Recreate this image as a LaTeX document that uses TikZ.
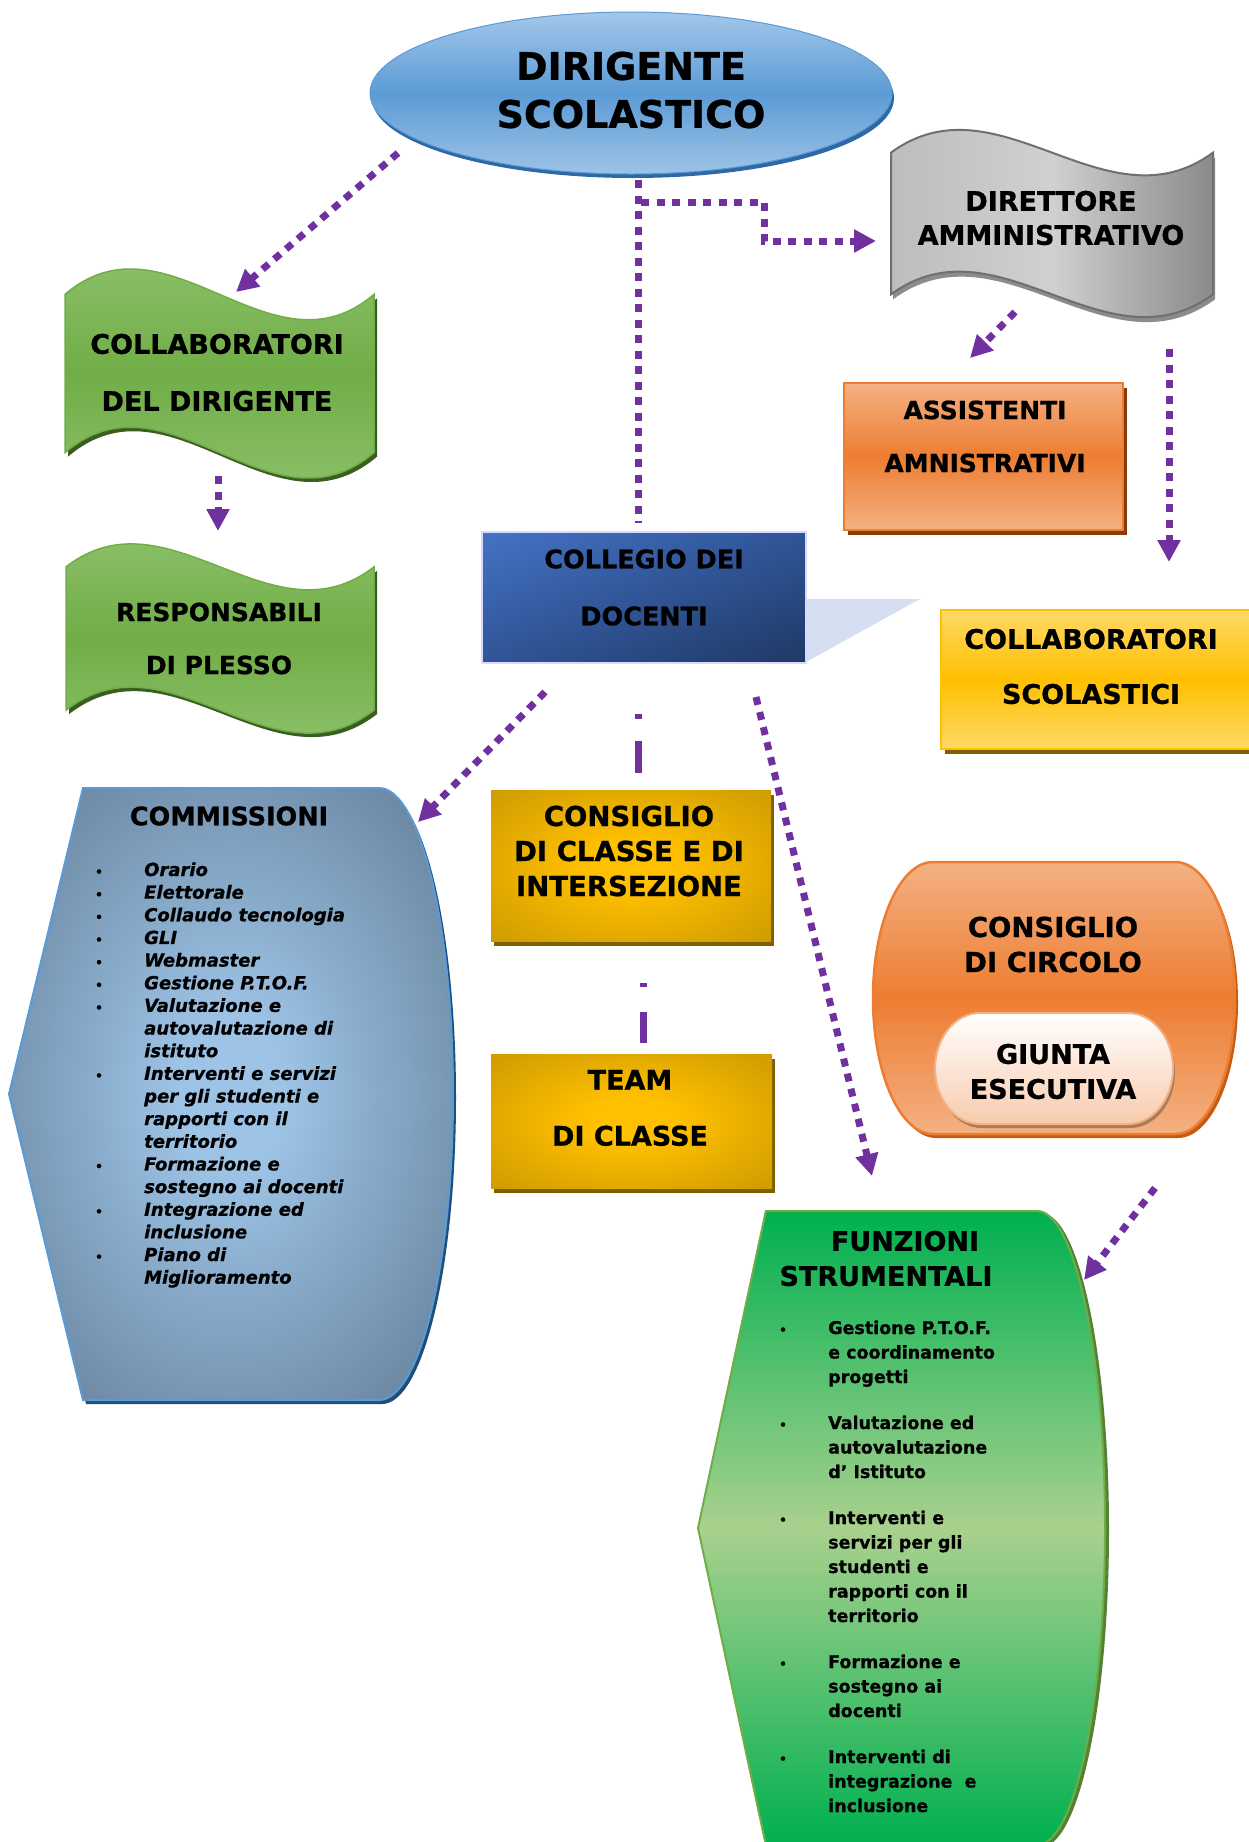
\documentclass[tikz,border=0pt]{standalone}
\usepackage{fontspec}
\setmainfont{DejaVu Sans}[BoldFeatures={FakeBold=0.8},BoldItalicFeatures={FakeBold=0.8}]
\usetikzlibrary{arrows.meta,shadings}
\definecolor{purp}{HTML}{7030A0}
\definecolor{ellTop}{HTML}{A3C7EA}
\definecolor{ellMid}{HTML}{5B9BD5}
\definecolor{ellBot}{HTML}{9DC3E6}
\definecolor{ellSh}{HTML}{2E68A8}
\definecolor{grL}{HTML}{BDBDBD}
\definecolor{grM}{HTML}{D0D0D0}
\definecolor{grR}{HTML}{8A8A8A}
\definecolor{grSh}{HTML}{6F6F6F}
\definecolor{gnTop}{HTML}{97C876}
\definecolor{gnMid}{HTML}{70AD47}
\definecolor{gnSh}{HTML}{3A5D22}
\definecolor{bluA}{HTML}{4472C4}
\definecolor{bluB}{HTML}{203864}
\definecolor{bluC}{HTML}{2F5597}
\definecolor{triC}{HTML}{D6DEF2}
\definecolor{orL}{HTML}{F4B183}
\definecolor{orM}{HTML}{ED7D31}
\definecolor{orSh}{HTML}{843C0C}
\definecolor{orShB}{HTML}{C55A11}
\definecolor{yeL}{HTML}{FFD966}
\definecolor{yeM}{HTML}{FFC000}
\definecolor{yeSh}{HTML}{7F6000}
\definecolor{goC}{HTML}{FFC000}
\definecolor{goE}{HTML}{BF9000}
\definecolor{slC}{HTML}{9DC3E6}
\definecolor{slE}{HTML}{5E7890}
\definecolor{slB}{HTML}{5B9BD5}
\definecolor{slSh}{HTML}{1F4E79}
\definecolor{giB}{HTML}{F8CBAD}
\definecolor{fnE}{HTML}{00B050}
\definecolor{fnC}{HTML}{A9D18E}
\definecolor{fnB}{HTML}{70AD47}
\definecolor{fnSh}{HTML}{548235}
\pgfdeclareradialshading{goldrad}{\pgfpoint{0bp}{0bp}}{color(0bp)=(goC); color(8bp)=(goC); color(44bp)=(goE); color(75bp)=(goE)}
\pgfdeclareradialshading{slaterad}{\pgfpoint{0bp}{0bp}}{color(0bp)=(slC); color(6bp)=(slC); color(38bp)=(slE); color(75bp)=(slE)}
\newcommand{\fs}[2]{\fontsize{#1}{#2}\selectfont}
% x0 y0 w h
\newcommand{\wavepath}[4]{({#1},{#2+0.125*#4}) .. controls ({#1+#3/3},{#2-0.29167*#4}) and ({#1+2*#3/3},{#2+0.54167*#4}) .. ({#1+#3},{#2+0.125*#4}) -- ({#1+#3},{#2+0.875*#4}) .. controls ({#1+2*#3/3},{#2+1.29167*#4}) and ({#1+#3/3},{#2+0.45833*#4}) .. ({#1},{#2+0.875*#4}) -- cycle}
\newcommand{\disppath}[4]{({#1},{#2+#4/2}) -- ({#1+#3/6},{#2}) -- ({#1+5*#3/6},{#2}) arc[start angle=-90, end angle=90, x radius={#3/6}, y radius={#4/2}] -- ({#1+#3/6},{#2+#4}) -- cycle}
% x0 y0 w h rx
\newcommand{\termpath}[5]{({#1+#5},{#2}) -- ({#1+#3-#5},{#2}) arc[start angle=-90, end angle=90, x radius={#5}, y radius={#4/2}] -- ({#1+#5},{#2+#4}) arc[start angle=90, end angle=270, x radius={#5}, y radius={#4/2}] -- cycle}
\begin{document}
\begin{tikzpicture}[x=1pt,y=-1pt,
  lbl/.style={inner sep=0pt, align=center, text=black},
  conn/.style={line width=7pt, draw=purp, dash pattern=on 8pt off 7.5pt},
  tipped/.style={-{Triangle[length=22pt,width=22pt]}},
]
\useasboundingbox[fill=white] (0,0) rectangle (1248,1842);

% ---------- shapes ----------
% Dirigente
\fill[ellSh] (633,98) ellipse [x radius=261, y radius=80];
\shadedraw[top color=ellTop, bottom color=ellBot, middle color=ellMid, draw=ellMid, line width=1] (631,93) ellipse [x radius=261, y radius=81];

% Direttore (grey wave)
\fill[grSh!80] \wavepath{893}{134}{322}{189};
\shadedraw[left color=grL, right color=grR, middle color=grM, draw=grSh, line width=2] \wavepath{891}{129}{322}{189};

% Collaboratori del dirigente (green wave)
\fill[gnSh] \wavepath{68}{272}{309}{211};
\shadedraw[top color=gnTop, bottom color=gnTop, middle color=gnMid, draw=gnMid, line width=1.5] \wavepath{65}{268}{309}{211};

% Responsabili di plesso
\fill[gnSh] \wavepath{69}{547}{308}{191};
\shadedraw[top color=gnTop, bottom color=gnTop, middle color=gnMid, draw=gnMid, line width=1.5] \wavepath{66}{543}{308}{191};

% Collegio dei docenti
\fill[triC] (806,599) -- (920,599) -- (806,662) -- cycle;
\shade[upper left=bluA, lower right=bluB, upper right=bluC, lower left=bluC] (482,532) rectangle (806,663);
\draw[white!85!blue, line width=1.5] (482,532) rectangle (806,663);

% Assistenti amministrativi
\fill[orSh] (848,388) rectangle (1127,535);
\shadedraw[top color=orL, bottom color=orL, middle color=orM, draw=orM, line width=2.5] (844,383) rectangle (1123,530);

% Collaboratori scolastici
\fill[yeSh] (945,615) rectangle (1254,754);
\shadedraw[top color=yeL, bottom color=yeL, middle color=yeM, draw=yeM, line width=2.5] (941,610) rectangle (1250,749);

% Commissioni
\fill[slSh] \disppath{12}{792}{444}{612};
\shadedraw[shading=slaterad, draw=slB, line width=2] \disppath{9}{788}{444}{612};

% Consiglio di classe
\fill[yeSh] (494,795) rectangle (774,946);
\shade[shading=goldrad] (491,790) rectangle (771,941);

% Team di classe
\fill[yeSh] (494,1059) rectangle (775,1193);
\shade[shading=goldrad] (491,1054) rectangle (772,1188);

% Consiglio di circolo
\fill[orShB] \termpath{876}{866}{362}{272}{60};
\shadedraw[top color=orL, bottom color=orL, middle color=orM, draw=orM, line width=2.5] \termpath{873}{862}{362}{272}{60};

% Giunta esecutiva
\fill[orL!70!black] \termpath{937}{1017}{238}{111}{45};
\shadedraw[top color=white, bottom color=giB, draw=orL, line width=2] \termpath{935}{1013}{238}{111}{45};

% Funzioni strumentali
\fill[fnSh] \disppath{702}{1213}{407}{634};
\shadedraw[top color=fnE, bottom color=fnE, middle color=fnC, draw=fnB, line width=2] \disppath{698}{1211}{407}{634};

% ---------- texts ----------
\node[lbl, font=\fs{38}{48}\bfseries] (ds) at (631,90) {DIRIGENTE\\SCOLASTICO};
\node[lbl, font=\fs{27}{34}\bfseries] (da) at (1051,218) {DIRETTORE\\AMMINISTRATIVO};
\node[lbl, font=\fs{27}{57}\bfseries] (cd) at (217,372.5) {COLLABORATORI\\DEL DIRIGENTE};
\node[lbl, font=\fs{25}{53}\bfseries] (rp) at (219,638.5) {RESPONSABILI\\DI PLESSO};
\node[lbl, font=\fs{25.5}{57}\bfseries] (cdoc) at (644,587.5) {COLLEGIO DEI\\DOCENTI};
\node[lbl, font=\fs{25}{53}\bfseries] (aa) at (985,436.5) {ASSISTENTI\\AMNISTRATIVI};
\node[lbl, font=\fs{27}{55}\bfseries] (cs) at (1091,666.5) {COLLABORATORI\\SCOLASTICI};
\node[lbl, font=\fs{27.5}{35}\bfseries] (ccl) at (629,851) {CONSIGLIO\\DI CLASSE E DI\\INTERSEZIONE};
\node[lbl, font=\fs{27}{56}\bfseries] (tc) at (630,1108) {TEAM\\DI CLASSE};
\node[lbl, font=\fs{27.5}{35}\bfseries] (cci) at (1053,944.5) {CONSIGLIO\\DI CIRCOLO};
\node[lbl, font=\fs{27}{35}\bfseries] (ge) at (1053,1071.5) {GIUNTA\\ESECUTIVA};
\node[lbl, font=\fs{25.5}{30}\bfseries] (cm) at (229,816) {COMMISSIONI};
\node[lbl, font=\fs{27}{35}\bfseries] (fs1) at (905,1241) {FUNZIONI};
\node[lbl, font=\fs{27}{35}\bfseries] (fs2) at (886,1276) {STRUMENTALI};

\node[anchor=base west, inner sep=0pt, font=\fs{18}{22.65}\bfseries\itshape] (cmlist) at (95,876) {%
\begin{tabular}[t]{@{}p{49pt}@{}l@{}}
{\fs{12}{12}\upshape •} & Orario\\
{\fs{12}{12}\upshape •} & Elettorale\\
{\fs{12}{12}\upshape •} & Collaudo tecnologia\\
{\fs{12}{12}\upshape •} & GLI\\
{\fs{12}{12}\upshape •} & Webmaster\\
{\fs{12}{12}\upshape •} & Gestione P.T.O.F.\\
{\fs{12}{12}\upshape •} & Valutazione e\\
 & autovalutazione di\\
 & istituto\\
{\fs{12}{12}\upshape •} & Interventi e servizi\\
 & per gli studenti e\\
 & rapporti con il\\
 & territorio\\
{\fs{12}{12}\upshape •} & Formazione e\\
 & sostegno ai docenti\\
{\fs{12}{12}\upshape •} & Integrazione ed\\
 & inclusione\\
{\fs{12}{12}\upshape •} & Piano di\\
 & Miglioramento
\end{tabular}};

\node[anchor=base west, inner sep=0pt, font=\fs{17.5}{24.5}\bfseries] (fnlist) at (779,1334) {%
\begin{tabular}[t]{@{}p{49pt}@{}l@{}}
{\fs{12}{12}•} & Gestione P.T.O.F.\\
 & e coordinamento\\
 & progetti\\[21.5pt]
{\fs{12}{12}•} & Valutazione ed\\
 & autovalutazione\\
 & d’ Istituto\\[21.5pt]
{\fs{12}{12}•} & Interventi e\\
 & servizi per gli\\
 & studenti e\\
 & rapporti con il\\
 & territorio\\[21.5pt]
{\fs{12}{12}•} & Formazione e\\
 & sostegno ai\\
 & docenti\\[21.5pt]
{\fs{12}{12}•} & Interventi di\\
 & integrazione\ \ e\\
 & inclusione
\end{tabular}};

% ---------- connectors ----------
\coordinate (a1s) at (398,153);  \coordinate (a1e) at (236,292);
\coordinate (b1) at (638,180);   \coordinate (b2) at (638,523);
\coordinate (c1) at (641,202);   \coordinate (c2) at (764,220);  \coordinate (c3) at (876,241);
\coordinate (d1) at (1015,312);  \coordinate (d2) at (970,358);
\coordinate (e1) at (1169,349);  \coordinate (e2) at (1169,562);
\coordinate (f1) at (218,476);   \coordinate (f2) at (218,531);
\coordinate (g1) at (545,692);   \coordinate (g2) at (418,822);
\coordinate (h1) at (638,714);   \coordinate (h2) at (638,773);
\coordinate (i1) at (643,983);   \coordinate (i2) at (643,1043);
\coordinate (j1) at (756,697);   \coordinate (j2) at (872,1176);
\coordinate (k1) at (1155,1188); \coordinate (k2) at (1084,1280);

\draw[conn,tipped] (a1s) -- (a1e);
\draw[conn] (b1) -- (b2);
\draw[conn,tipped] (c1) -| (c2) |- (c3);
\draw[conn,tipped] (d1) -- (d2);
\draw[conn,tipped] (e1) -- (e2);
\draw[conn,tipped] (f1) -- (f2);
\draw[conn,tipped] (g1) -- (g2);
\draw[line width=7pt, draw=purp, dash pattern=on 5pt off 22pt on 32pt off 200pt] (h1) -- (h2);
\draw[line width=7pt, draw=purp, dash pattern=on 4pt off 25pt on 31pt off 200pt] (i1) -- (i2);
\draw[conn,tipped] (j1) -- (j2);
\draw[conn,tipped] (k1) -- (k2);
\end{tikzpicture}
\end{document}
